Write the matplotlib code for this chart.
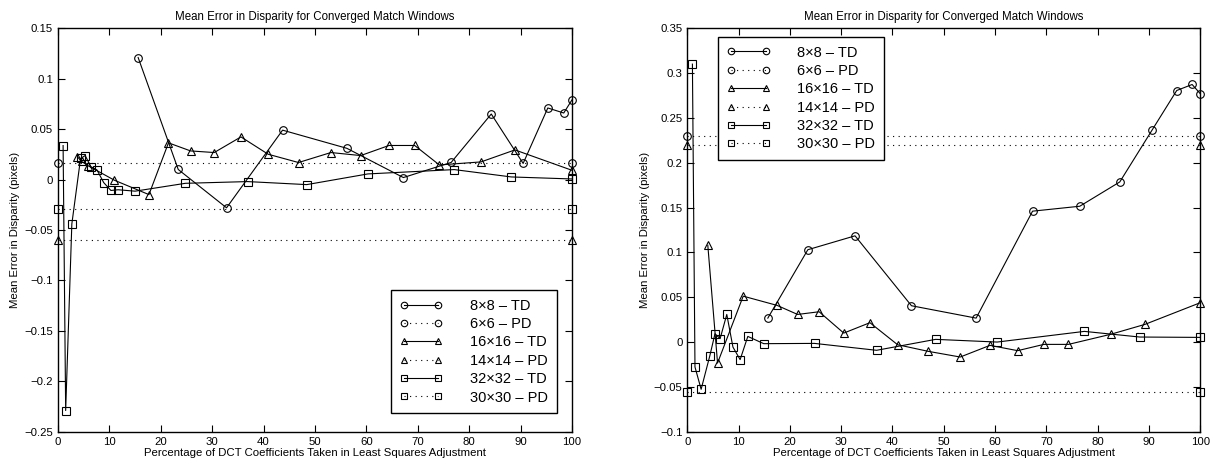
import matplotlib
matplotlib.use("Agg")
import matplotlib.pyplot as plt
from matplotlib.ticker import FuncFormatter, MultipleLocator

plt.rcParams['font.family'] = ['Liberation Sans', 'DejaVu Sans']

# ---------------- data: left panel ----------------
L_td8_x = [15.6, 23.4, 32.8, 43.7, 56.2, 67.2, 76.5, 84.3, 90.5, 95.3, 98.4, 100]
L_td8_y = [0.121, 0.010, -0.028, 0.049, 0.031, 0.002, 0.017, 0.065, 0.016, 0.071, 0.066, 0.079]
L_td16_x = [3.8, 4.6, 5.9, 11.0, 17.7, 21.5, 25.8, 30.4, 35.6, 40.9, 46.8, 53.1, 58.9, 64.4,
            69.4, 74.2, 82.3, 88.9, 100]
L_td16_y = [0.0225, 0.018, 0.0136, -0.0007, -0.0149, 0.0364, 0.0284, 0.0268, 0.0423, 0.0251,
            0.0169, 0.0268, 0.0238, 0.0338, 0.0338, 0.0145, 0.0175, 0.0294, 0.0092]
L_td32_x = [1.0, 1.5, 2.7, 4.4, 5.3, 6.4, 7.6, 8.9, 10.3, 11.7, 15.0, 24.8, 36.9, 48.4, 60.3,
            77.1, 88.2, 100]
L_td32_y = [0.0337, -0.229, -0.0440, 0.021, 0.0238, 0.0128, 0.0095, -0.003, -0.0108, -0.0101,
            -0.0115, -0.0037, -0.002, -0.005, 0.0056, 0.0099, 0.0026, 0.0006]
L_pd6 = 0.0162
L_pd14 = -0.0603
L_pd30 = -0.0288

# ---------------- data: right panel ----------------
R_td8_x = [15.7, 23.5, 32.7, 43.7, 56.3, 67.3, 76.5, 84.3, 90.6, 95.4, 98.4, 100]
R_td8_y = [0.0267, 0.103, 0.1185, 0.0405, 0.0267, 0.146, 0.1515, 0.1786, 0.2365, 0.2806,
           0.2873, 0.277]
R_td16_x = [4.0, 5.9, 10.9, 17.5, 21.5, 25.7, 30.5, 35.6, 41.0, 47.0, 53.2, 59.0, 64.4, 69.5,
            74.3, 82.5, 89.2, 100]
R_td16_y = [0.108, -0.0234, 0.0512, 0.0409, 0.0308, 0.0338, 0.010, 0.0216, -0.003, -0.0104,
            -0.0167, -0.0037, -0.0096, -0.0026, -0.0026, 0.0086, 0.0197, 0.0439]
R_td32_x = [1.0, 1.5, 2.7, 4.4, 5.4, 6.4, 7.7, 8.9, 10.3, 11.8, 14.9, 24.8, 36.9, 48.4, 60.4,
            77.4, 88.2, 100]
R_td32_y = [0.310, -0.0278, -0.0527, -0.0152, 0.0093, 0.0038, 0.0308, -0.0056, -0.0196, 0.0063,
            -0.0018, -0.0015, -0.0092, 0.003, 0.0, 0.0119, 0.0056, 0.0052]
R_pd6 = 0.2298
R_pd14 = 0.2194
R_pd30 = -0.0552

labels = ['8\u00d78 \u2013 TD', '6\u00d76 \u2013 PD', '16\u00d716 \u2013 TD',
          '14\u00d714 \u2013 PD', '32\u00d732 \u2013 TD', '30\u00d730 \u2013 PD']
title = 'Mean Error in Disparity for Converged Match Windows'
xlabel = 'Percentage of DCT Coefficients Taken in Least Squares Adjustment'
ylabel = 'Mean Error in Disparity (pixels)'

fig = plt.figure(figsize=(12.1, 4.63), dpi=100)
axL = fig.add_axes([0.0479, 0.0676, 0.4248, 0.8713])
axR = fig.add_axes([0.568, 0.0676, 0.424, 0.8713])

def fmt(v, pos):
    s = '%g' % round(v, 6)
    if s == '-0':
        s = '0'
    return s.replace('-', '\u2212')

ms = 5.5
lw = 0.8

def draw(ax, td8, td16, td32, pd6, pd14, pd30, ylim, legkw):
    kw = dict(color='black', lw=lw, mfc='none', mec='black', ms=ms, mew=0.8)
    dkw = dict(color='black', lw=0.8, ls=(0, (1, 4)), mfc='none', mec='black', ms=ms, mew=0.8)
    h = []
    h += ax.plot(td8[0], td8[1], marker='o', **kw)
    h += ax.plot([0, 100], [pd6, pd6], marker='o', **dkw)
    h += ax.plot(td16[0], td16[1], marker='^', **kw)
    h += ax.plot([0, 100], [pd14, pd14], marker='^', **dkw)
    h += ax.plot(td32[0], td32[1], marker='s', **kw)
    h += ax.plot([0, 100], [pd30, pd30], marker='s', **dkw)
    ax.set_xlim(0, 100)
    ax.set_ylim(*ylim)
    ax.xaxis.set_major_locator(MultipleLocator(10))
    ax.yaxis.set_major_locator(MultipleLocator(0.05))
    ax.yaxis.set_major_formatter(FuncFormatter(fmt))
    ax.tick_params(direction='in', top=True, right=True, labelsize=8.2, length=5, width=0.8)
    for sp in ax.spines.values():
        sp.set_linewidth(1.0)
    ax.set_title(title, fontsize=8.3, pad=6)
    ax.set_xlabel(xlabel, fontsize=8.2, labelpad=1)
    ax.set_ylabel(ylabel, fontsize=8.2, labelpad=3)
    for ln in h:
        ln.set_clip_on(False)
    leg = ax.legend(h, labels, numpoints=2, fontsize=10.5, handlelength=2.95,
                    frameon=True, fancybox=False, edgecolor='black', framealpha=1,
                    borderpad=0.6, labelspacing=0.3, handletextpad=1.85,
                    borderaxespad=0, markerscale=0.85, **legkw)
    leg.get_frame().set_linewidth(1.0)

draw(axL, (L_td8_x, L_td8_y), (L_td16_x, L_td16_y), (L_td32_x, L_td32_y),
     L_pd6, L_pd14, L_pd30, (-0.25, 0.15),
     dict(loc='lower right', bbox_to_anchor=(0.970, 0.0456)))
draw(axR, (R_td8_x, R_td8_y), (R_td16_x, R_td16_y), (R_td32_x, R_td32_y),
     R_pd6, R_pd14, R_pd30, (-0.1, 0.35),
     dict(loc='upper left', bbox_to_anchor=(0.0604, 0.979)))

fig.savefig('out.png', dpi=100)
